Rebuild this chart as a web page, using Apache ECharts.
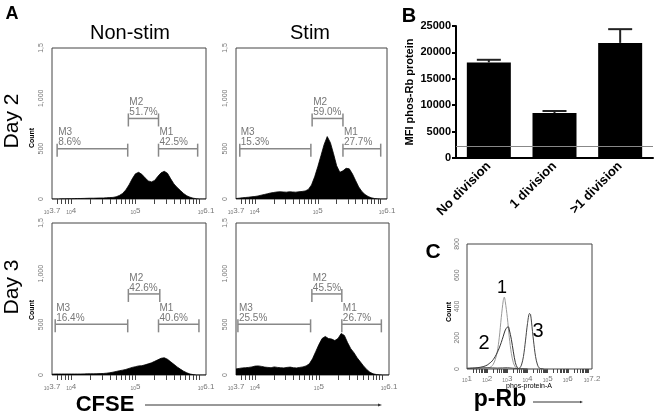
<!DOCTYPE html>
<html><head><meta charset="utf-8">
<script src="https://cdn.jsdelivr.net/npm/echarts@6/dist/echarts.min.js"></script>
<style>html,body{margin:0;padding:0;background:#fff}#c{width:661px;height:418px}</style>
</head><body><div id="c"></div>
<script>
// ---------- Panel A: CFSE histograms (x = log10 fluorescence) ----------
const binX = [3.70,3.75,3.80,3.85,3.90,3.95,4.00,4.05,4.10,4.15,4.20,4.25,4.30,4.35,4.40,4.45,4.50,4.55,4.60,4.65,4.70,4.75,4.80,4.85,4.90,4.95,5.00,5.05,5.10,5.15,5.20,5.25,5.30,5.35,5.40,5.45,5.50,5.55,5.60,5.65,5.70,5.75,5.80,5.85,5.90,5.95,6.00,6.05,6.10];
const countNonStimDay2 = [0,0,0,2,2,3,3,4,5,5,6,7,8,8,9,10,10,12,14,16,22,35,55,90,140,200,250,265,245,210,180,170,185,225,260,275,255,200,150,115,85,55,32,18,8,3,0,0,0];
const countStimDay2 = [5,8,12,15,18,22,25,30,38,45,52,60,65,70,72,70,68,72,70,68,72,75,80,95,140,220,320,430,540,620,560,450,330,265,280,305,300,250,185,120,75,45,25,12,5,2,0,0,0];
const countNonStimDay3 = [8,10,10,10,10,10,10,10,10,10,11,12,12,12,13,14,15,18,22,28,35,42,48,55,65,75,82,90,92,100,110,120,135,150,165,170,155,130,105,80,58,38,22,10,4,0,0,0,0];
const countStimDay3 = [60,65,70,72,75,80,88,90,85,78,75,72,80,75,72,70,75,78,72,70,75,80,90,110,160,230,300,360,380,360,355,340,360,410,390,320,260,220,170,130,90,55,28,12,5,2,0,0,0];

const histTickVals = [3.7, 4, 5, 6.1];
const histTickText = ['3.7', '4', '5', '6.1'];
const countTickVals = [0, 500, 1000, 1500];
const countTickText = ['0', '500', '1,000', '1,5'];

const gateNames = ['M3', 'M2', 'M1'];
const gateLevel = [500, 800, 500];
const gateNonStimDay2Lo = [3.78, 4.89, 5.36];
const gateNonStimDay2Hi = [4.88, 5.36, 5.97];
const gateNonStimDay2Pct = ['8.6%', '51.7%', '42.5%'];
const gateStimDay2Lo = [3.76, 4.91, 5.40];
const gateStimDay2Hi = [4.89, 5.40, 6.00];
const gateStimDay2Pct = ['15.3%', '59.0%', '27.7%'];
const gateNonStimDay3Lo = [3.75, 4.89, 5.36];
const gateNonStimDay3Hi = [4.88, 5.38, 5.99];
const gateNonStimDay3Pct = ['16.4%', '42.6%', '40.6%'];
const gateStimDay3Lo = [3.73, 4.89, 5.36];
const gateStimDay3Hi = [4.87, 5.36, 5.98];
const gateStimDay3Pct = ['25.5%', '45.5%', '26.7%'];

// ---------- Panel B: bar chart ----------
const divisionCats = ['No division', '1 division', '>1 division'];
const mfiMean = [18100, 8500, 21800];
const mfiSem = [500, 400, 2600];
const mfiThreshold = 2200;

// ---------- Panel C: p-Rb histograms ----------
const rbTickVals = [1, 2, 3, 4, 5, 6, 7.2];
const rbTickText = ['1', '2', '3', '4', '5', '6', '7.2'];
const rbX1 = [1.0,1.5,2.0,2.1,2.2,2.3,2.4,2.5,2.6,2.7,2.8,2.85,2.9,3.0,3.1,3.2,3.3,3.4,3.5,3.6,4.0,5.0];
const rbY1 = [2,3,5,8,15,30,60,110,200,330,440,460,430,330,200,100,40,12,3,0,0,0];
const rbX2 = [1.0,1.5,1.8,2.0,2.1,2.2,2.3,2.4,2.5,2.6,2.7,2.8,2.9,3.0,3.05,3.1,3.2,3.3,3.4,3.5,3.6,4.0];
const rbY2 = [3,8,15,25,35,45,60,80,105,135,170,210,250,268,270,250,190,110,40,8,2,0];
const rbX3 = [1.0,1.5,2.0,2.5,3.0,3.5,3.6,3.7,3.8,3.9,4.0,4.1,4.15,4.2,4.3,4.4,4.5,4.6,4.8];
const rbY3 = [5,6,8,6,8,3,5,25,80,180,290,355,350,300,180,80,25,5,0];

// ---------- build ----------
const FONT = 'Liberation Sans, Arial, sans-serif';
const GRAY = '#777';

function logTicks(lo, hi) {
  const out = [];
  for (let d = Math.floor(lo); d <= Math.ceil(hi); d++)
    for (let k = 1; k < 10; k++) {
      const v = d + Math.log10(k);
      if (v > lo + 1e-6 && v < hi - 1e-6) out.push(v);
    }
  return out;
}
function lookup(vals, texts, v) {
  const i = vals.findIndex(t => Math.abs(t - v) < 1e-6);
  return i < 0 ? '' : texts[i];
}

const histBoxes = [
  {left: 52, top: 48, width: 154, height: 151},
  {left: 236, top: 48, width: 151, height: 151},
  {left: 52, top: 223, width: 154, height: 152},
  {left: 236, top: 223, width: 153, height: 152}
];
const histCounts = [countNonStimDay2, countStimDay2, countNonStimDay3, countStimDay3];
const gateLo = [gateNonStimDay2Lo, gateStimDay2Lo, gateNonStimDay3Lo, gateStimDay3Lo];
const gateHi = [gateNonStimDay2Hi, gateStimDay2Hi, gateNonStimDay3Hi, gateStimDay3Hi];
const gatePct = [gateNonStimDay2Pct, gateStimDay2Pct, gateNonStimDay3Pct, gateStimDay3Pct];

const grids = [], xAxes = [], yAxes = [], series = [];

const logLabelRich = {
  a: {fontSize: 5, color: GRAY, fontFamily: FONT, padding: [4, 0, 0, 0]},
  b: {fontSize: 8, color: GRAY, fontFamily: FONT}
};

histBoxes.forEach((b, i) => {
  grids.push(Object.assign({show: true, borderColor: '#444', borderWidth: 1, backgroundColor: '#fff'}, b));
  xAxes.push({
    type: 'value', gridIndex: i, min: 3.7, max: 6.1,
    axisLine: {show: false},
    axisTick: {show: true, customValues: logTicks(3.7, 6.1), length: 5, lineStyle: {color: '#444'}},
    axisLabel: {customValues: histTickVals, margin: 7,
      formatter: v => '{a|10}{b|' + lookup(histTickVals, histTickText, v) + '}', rich: logLabelRich},
    splitLine: {show: false}
  });
  yAxes.push({
    type: 'value', gridIndex: i, min: 0, max: 1500, interval: 500,
    axisLine: {show: false}, axisTick: {show: false}, splitLine: {show: false},
    axisLabel: {rotate: 90, fontSize: 7, color: GRAY, fontFamily: FONT, margin: 7,
      formatter: v => lookup(countTickVals, countTickText, v)}
  });
  series.push({
    type: 'line', xAxisIndex: i, yAxisIndex: i, silent: true,
    data: binX.map((x, k) => [x, histCounts[i][k]]),
    showSymbol: false, lineStyle: {color: '#000', width: 0.8},
    areaStyle: {color: '#000', opacity: 1}
  });
  const lo = gateLo[i], hi = gateHi[i], pct = gatePct[i];
  series.push({
    type: 'custom', xAxisIndex: i, yAxisIndex: i, silent: true,
    data: lo.map((l, k) => [l, hi[k], gateLevel[k], k]),
    renderItem: (params, api) => {
      const k = api.value(3);
      const p1 = api.coord([api.value(0), api.value(2)]);
      const p2 = api.coord([api.value(1), api.value(2)]);
      const st = {stroke: '#888', lineWidth: 1.5};
      return {type: 'group', children: [
        {type: 'line', shape: {x1: p1[0], y1: p1[1], x2: p2[0], y2: p2[1]}, style: st},
        {type: 'line', shape: {x1: p1[0], y1: p1[1] - 5, x2: p1[0], y2: p1[1] + 8}, style: st},
        {type: 'line', shape: {x1: p2[0], y1: p2[1] - 5, x2: p2[0], y2: p2[1] + 8}, style: st},
        {type: 'text', x: p1[0] + 1, y: p1[1] - 1, style: {
          text: gateNames[k] + '\n' + pct[k], fill: GRAY, font: '10px ' + FONT,
          align: 'left', verticalAlign: 'bottom', lineHeight: 10}}
      ]};
    }
  });
});

// Panel B
grids.push({left: 456, top: 26, width: 197, height: 132});
xAxes.push({
  type: 'category', gridIndex: 4, data: divisionCats,
  axisLine: {lineStyle: {color: '#000', width: 2}},
  axisTick: {alignWithLabel: true, length: 4, lineStyle: {color: '#000', width: 2}},
  axisLabel: {rotate: 45, fontSize: 13, fontWeight: 'bold', color: '#000', fontFamily: FONT, margin: 6, interval: 0}
});
yAxes.push({
  type: 'value', gridIndex: 4, min: 0, max: 25000, interval: 5000,
  name: 'MFI phos-Rb protein', nameLocation: 'middle', nameGap: 41,
  nameTextStyle: {fontSize: 11, fontWeight: 'bold', color: '#000', fontFamily: FONT},
  axisLine: {show: true, lineStyle: {color: '#000', width: 2}},
  axisTick: {show: true, length: 4, lineStyle: {color: '#000', width: 2}},
  axisLabel: {fontSize: 11, fontWeight: 'bold', color: '#000', fontFamily: FONT, margin: 5,
    formatter: v => String(v)},
  splitLine: {show: false}
});
series.push({
  type: 'bar', xAxisIndex: 4, yAxisIndex: 4, data: mfiMean, barWidth: 44,
  itemStyle: {color: '#000'}, silent: true,
  markLine: {silent: true, symbol: 'none', label: {show: false},
    lineStyle: {color: '#888', width: 1, type: 'solid'}, data: [{yAxis: mfiThreshold}]}
});
series.push({
  type: 'custom', xAxisIndex: 4, yAxisIndex: 4, silent: true, z: 3,
  data: mfiMean.map((m, i) => [i, m, m + mfiSem[i]]),
  renderItem: (params, api) => {
    const p0 = api.coord([api.value(0), api.value(1)]);
    const p1 = api.coord([api.value(0), api.value(2)]);
    const st = {stroke: '#222', lineWidth: 2};
    return {type: 'group', children: [
      {type: 'line', shape: {x1: p0[0], y1: p0[1], x2: p1[0], y2: p1[1]}, style: st},
      {type: 'line', shape: {x1: p1[0] - 12, y1: p1[1], x2: p1[0] + 12, y2: p1[1]}, style: st}
    ]};
  }
});

// Panel C
grids.push({left: 467, top: 244, width: 125, height: 125, show: true, borderColor: '#444', borderWidth: 1});
xAxes.push({
  type: 'value', gridIndex: 5, min: 1, max: 7.2,
  axisLine: {show: false},
  axisTick: {show: true, customValues: logTicks(1, 7.2), length: 4, lineStyle: {color: '#444'}},
  axisLabel: {customValues: rbTickVals, margin: 5,
    formatter: v => '{a|10}{b|' + lookup(rbTickVals, rbTickText, v) + '}', rich: logLabelRich},
  splitLine: {show: false}
});
yAxes.push({
  type: 'value', gridIndex: 5, min: 0, max: 800, interval: 200,
  axisLine: {show: false}, axisTick: {show: false}, splitLine: {show: false},
  axisLabel: {rotate: 90, fontSize: 7, color: GRAY, fontFamily: FONT, margin: 6}
});
[[rbX1, rbY1, '#999'], [rbX2, rbY2, '#333'], [rbX3, rbY3, '#444']].forEach(([xs, ys, col]) => {
  series.push({
    type: 'line', xAxisIndex: 5, yAxisIndex: 5, silent: true, smooth: 0.3,
    data: xs.map((x, k) => [x, ys[k]]), showSymbol: false,
    lineStyle: {color: col, width: 1}
  });
});

function txt(x, y, text, font, opts) {
  return Object.assign({type: 'text', x, y, silent: true,
    style: {text, font: font + ' ' + FONT, fill: '#000', align: 'center', verticalAlign: 'middle'}}, opts || {});
}
const graphic = [
  txt(12, 14, 'A', 'bold 18px'),
  txt(130, 33, 'Non-stim', '20px'),
  txt(310, 33, 'Stim', '20px'),
  txt(12, 121, 'Day 2', '21px', {rotation: Math.PI / 2}),
  txt(12, 287, 'Day 3', '21px', {rotation: Math.PI / 2}),
  txt(32, 138, 'Count', 'bold 7px', {rotation: Math.PI / 2}),
  txt(32, 310, 'Count', 'bold 7px', {rotation: Math.PI / 2}),
  txt(105, 405, 'CFSE', 'bold 22px'),
  {type: 'line', silent: true, shape: {x1: 145, y1: 405, x2: 378, y2: 405}, style: {stroke: '#333', lineWidth: 1}},
  {type: 'polygon', silent: true, shape: {points: [[378, 403.5], [382, 405], [378, 406.5]]}, style: {fill: '#333'}},
  txt(409, 16, 'B', 'bold 20px'),
  txt(433, 252, 'C', 'bold 21px'),
  txt(449, 312, 'Count', 'bold 7px', {rotation: Math.PI / 2}),
  txt(529, 386, 'phos-protein-A', '7px'),
  txt(500, 400, 'p-Rb', 'bold 23px'),
  {type: 'line', silent: true, shape: {x1: 533, y1: 402, x2: 580, y2: 402}, style: {stroke: '#333', lineWidth: 1}},
  {type: 'polygon', silent: true, shape: {points: [[580, 400.8], [583, 402], [580, 403.2]]}, style: {fill: '#333'}},
  txt(502, 288, '1', '18px'),
  txt(484, 343, '2', '20px'),
  txt(538, 331, '3', '20px')
];

const chart = echarts.init(document.getElementById('c'), null, {renderer: 'canvas'});
chart.setOption({
  animation: false,
  backgroundColor: '#fff',
  grid: grids, xAxis: xAxes, yAxis: yAxes, series, graphic
});
</script>
</body></html>
